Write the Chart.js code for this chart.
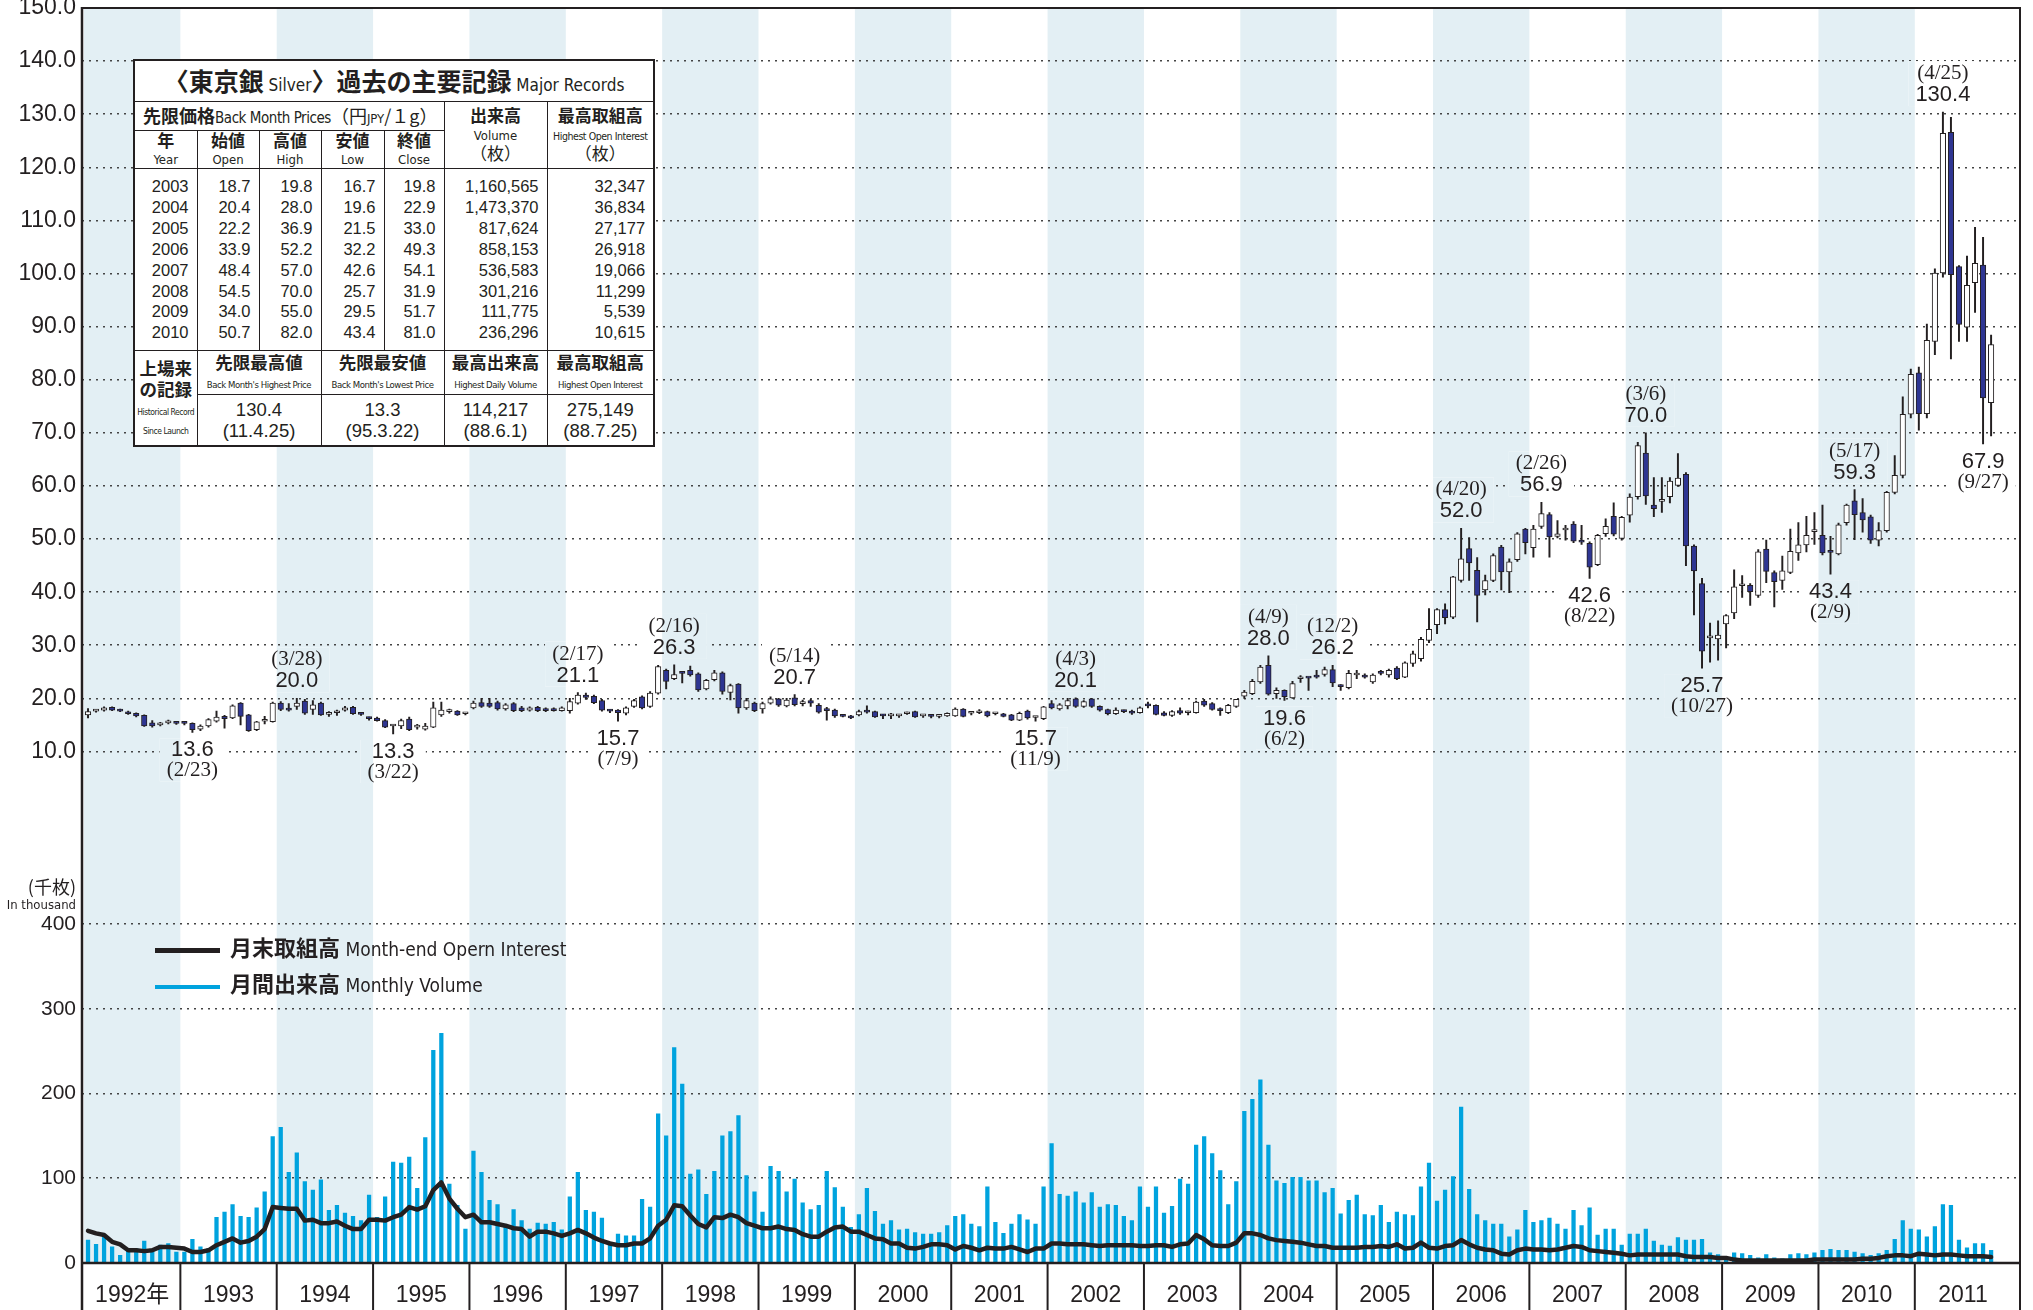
<!DOCTYPE html>
<html lang="ja">
<head>
<meta charset="utf-8">
<title>東京銀 Silver 過去の主要記録</title>
<script src="https://cdn.jsdelivr.net/npm/chart.js@4.4.1/dist/chart.umd.min.js"></script>
<style>
  html, body { margin: 0; padding: 0; background: #fff; }
  #stage { position: relative; width: 2033px; height: 1310px; overflow: hidden; color: #231f20; }
  #chart { position: absolute; left: 0; top: 0; }
  .jp { font-family: "Noto Sans CJK JP", sans-serif; }
  .en { font-family: "Liberation Sans Narrow", "DejaVu Sans Condensed", "Liberation Sans", sans-serif; font-weight: 400; }
  .b { font-weight: 700; }
  .sq { white-space: nowrap; letter-spacing: -0.45px; }

  #records { position: absolute; left: 133px; top: 59px; width: 521px; border-collapse: collapse;
             table-layout: fixed; background: #fff; border: 2.5px solid #231f20;
             font-family: "Liberation Sans", Arial, sans-serif; color: #231f20; }
  #records td { border: 1.5px solid #231f20; padding: 0; text-align: center; vertical-align: middle; line-height: 1.05; white-space: nowrap; overflow: visible; }
  #records .title td { height: 40px; font-size: 25px; }
  #records .h1 td { height: 28px; font-size: 17px; }
  #records .h1 td.lead { text-align: left; padding-left: 8px; font-size: 18px; }
  #records .h2 td { height: 37px; font-size: 17px; line-height: 17px; }
  #records .data td { height: 174px; vertical-align: top; text-align: right; padding: 7px 8px 0 0;
                      font-size: 16.5px; line-height: 20.9px; }
  #records .h3 td { height: 43px; font-size: 17.5px; line-height: 19px; }
  #records .vals td { height: 50px; font-size: 18.5px; line-height: 21px; }
  .e8 { font-size: 8.5px; line-height: 10px; }
  .e9 { font-size: 9.5px; }
  .e10 { font-size: 10.5px; }
  .e13 { font-size: 13px; }
  .e15 { font-size: 15px; }
  .e17 { font-size: 17px; }

  .legend { position: absolute; left: 155px; font-size: 22px; white-space: nowrap; }
  .legend .sw { display: inline-block; width: 65px; height: 5px; vertical-align: middle; margin-right: 10px; }
  .legend .en { font-size: 19px; }
  .unit { position: absolute; right: 1957px; text-align: right; white-space: nowrap; }
</style>
</head>
<body>
<div id="stage">
  <canvas id="chart" width="2033" height="1310"></canvas>

  <table id="records">
    <colgroup>
      <col style="width:63px"><col style="width:62px"><col style="width:62px"><col style="width:63px">
      <col style="width:60px"><col style="width:103px"><col style="width:107px">
    </colgroup>
    <tr class="title"><td colspan="7"><span class="jp b">〈東京銀</span><span class="en e17"> Silver</span><span class="jp b">〉過去の主要記録</span><span class="en e17"> Major Records</span></td></tr>
    <tr class="h1">
      <td colspan="5" class="lead"><span class="jp b">先限価格</span><span class="en e15 sq">Back Month Prices</span><span class="jp">（円</span><span class="en e13">JPY</span><span class="jp">/１g）</span></td>
      <td rowspan="2"><span class="jp b">出来高</span><br><span class="en e13">Volume</span><br><span class="jp">（枚）</span></td>
      <td rowspan="2"><span class="jp b">最高取組高</span><br><span class="en e10 sq">Highest Open Interest</span><br><span class="jp">（枚）</span></td>
    </tr>
    <tr class="h2">
      <td><span class="jp b">年</span><br><span class="en e13">Year</span></td>
      <td><span class="jp b">始値</span><br><span class="en e13">Open</span></td>
      <td><span class="jp b">高値</span><br><span class="en e13">High</span></td>
      <td><span class="jp b">安値</span><br><span class="en e13">Low</span></td>
      <td><span class="jp b">終値</span><br><span class="en e13">Close</span></td>
    </tr>
    <tr class="data">
      <td id="colYear"></td><td id="colOpen"></td><td id="colHigh"></td><td id="colLow"></td>
      <td id="colClose"></td><td id="colVol"></td><td id="colOI"></td>
    </tr>
    <tr class="h3">
      <td rowspan="2"><span class="jp b">上場来<br>の記録</span><br><span class="en e8 sq">Historical Record<br>Since Launch</span></td>
      <td colspan="2"><span class="jp b">先限最高値</span><br><span class="en e9 sq">Back Month's Highest Price</span></td>
      <td colspan="2"><span class="jp b">先限最安値</span><br><span class="en e9 sq">Back Month's Lowest Price</span></td>
      <td><span class="jp b">最高出来高</span><br><span class="en e9 sq">Highest Daily Volume</span></td>
      <td><span class="jp b">最高取組高</span><br><span class="en e9 sq">Highest Open Interest</span></td>
    </tr>
    <tr class="vals">
      <td colspan="2">130.4<br>(11.4.25)</td>
      <td colspan="2">13.3<br>(95.3.22)</td>
      <td>114,217<br>(88.6.1)</td>
      <td>275,149<br>(88.7.25)</td>
    </tr>
  </table>

  <div class="unit jp" style="top:873px; font-size:18px;">(千枚)</div>
  <div class="unit en" style="top:897px; font-size:13px;">In thousand</div>

  <div class="legend" style="top:930px;"><span class="sw" style="background:#231f20"></span><span class="jp b">月末取組高</span><span class="en"> Month-end Opern Interest</span></div>
  <div class="legend" style="top:966px;"><span class="sw" style="background:#00a3de; height:4px"></span><span class="jp b">月間出来高</span><span class="en"> Monthly Volume</span></div>
</div>

<script>
// x axis: one slot per month, Jan 1992 .. Oct 2011
const years = ['1992年', '1993', '1994', '1995', '1996', '1997', '1998', '1999', '2000', '2001',
               '2002', '2003', '2004', '2005', '2006', '2007', '2008', '2009', '2010', '2011'];
const priceTicks = [10, 20, 30, 40, 50, 60, 70, 80, 90, 100, 110, 120, 130, 140, 150];
const volumeTicks = [0, 100, 200, 300, 400];

// monthly candles, JPY / 1g (back month)
const open = [
  16.9, 17.6, 17.8, 18.3, 17.8, 17.4, 17.2, 16.8, 15.4, 15.0, 15.4, 15.6,
  15.4, 15.3, 14.2, 14.8, 15.7, 16.6, 16.3, 19.1, 16.9, 14.1, 15.7, 15.6,
  19.1, 18.0, 18.5, 19.5, 17.9, 19.1, 17.0, 17.3, 17.8, 18.3, 17.1, 16.3,
  16.3, 15.8, 14.8, 14.8, 16.1, 14.6, 14.2, 14.6, 16.9, 17.5, 17.6, 17.1,
  18.2, 19.2, 19.1, 19.2, 18.0, 19.0, 18.2, 17.8, 18.3, 18.0, 18.0, 17.7,
  17.7, 19.1, 20.6, 20.4, 19.6, 17.7, 17.8, 17.2, 18.5, 20.3, 18.5, 21.0,
  25.3, 23.7, 24.8, 25.3, 24.6, 21.8, 23.5, 24.8, 21.1, 22.7, 18.2, 19.1,
  18.0, 19.1, 19.9, 18.6, 20.1, 19.0, 19.6, 18.7, 17.8, 17.8, 16.8, 16.7,
  16.9, 17.7, 17.5, 16.8, 16.7, 16.7, 17.1, 17.5, 16.7, 16.7, 16.6, 16.7,
  16.7, 18.0, 17.2, 17.3, 17.5, 17.1, 17.1, 16.9, 15.9, 17.6, 16.4, 16.2,
  19.0, 18.0, 18.6, 19.9, 18.5, 19.9, 18.5, 17.9, 17.1, 17.6, 17.6, 17.3,
  18.7, 18.7, 17.3, 16.8, 17.7, 17.3, 17.3, 19.5, 19.0, 18.1, 17.3, 18.5,
  20.4, 20.9, 23.1, 26.2, 20.9, 21.5, 20.1, 23.7, 23.9, 24.4, 24.5, 25.4,
  22.3, 22.0, 24.4, 24.4, 23.1, 25.0, 24.4, 25.7, 24.0, 26.6, 27.5, 30.9,
  33.9, 36.7, 35.3, 42.2, 48.2, 44.1, 40.4, 42.2, 48.5, 43.8, 46.1, 51.9,
  48.4, 52.4, 54.6, 50.5, 51.7, 52.8, 49.8, 49.2, 45.2, 51.0, 54.3, 50.1,
  54.5, 58.0, 66.2, 56.4, 57.1, 58.0, 60.1, 62.2, 48.7, 41.6, 31.4, 31.2,
  34.0, 36.1, 41.2, 41.3, 39.4, 48.1, 43.7, 42.2, 43.7, 47.4, 48.9, 51.4,
  50.7, 47.6, 47.2, 53.1, 57.2, 55.0, 54.2, 49.8, 51.6, 58.8, 62.0, 73.5,
  81.3, 73.6, 87.2, 100.1, 126.6, 101.3, 89.9, 98.3, 101.6, 75.7
];
const high = [
  18.1, 17.9, 18.4, 18.4, 18.0, 17.6, 17.3, 16.9, 15.8, 15.5, 15.9, 15.7,
  15.5, 15.4, 15.0, 16.2, 17.6, 16.8, 18.8, 19.2, 17.0, 15.7, 16.6, 19.3,
  19.4, 19.0, 20.0, 19.8, 19.6, 19.3, 17.5, 17.8, 18.5, 18.5, 17.3, 16.5,
  16.5, 16.0, 15.0, 16.1, 16.5, 15.1, 15.3, 19.3, 19.3, 18.0, 17.7, 17.3,
  19.5, 20.0, 20.0, 19.5, 19.0, 19.2, 18.5, 18.4, 18.5, 18.2, 18.2, 18.4,
  20.0, 21.1, 21.0, 20.6, 19.8, 17.9, 17.9, 18.4, 19.8, 20.5, 21.3, 26.2,
  25.5, 26.3, 24.9, 26.1, 24.8, 23.6, 25.3, 25.0, 22.7, 22.8, 20.0, 19.3,
  19.3, 20.3, 20.0, 20.0, 20.7, 19.7, 19.8, 19.0, 18.3, 18.0, 16.9, 16.8,
  17.8, 18.6, 17.6, 17.0, 17.2, 17.0, 17.4, 17.6, 17.0, 16.9, 16.9, 17.3,
  18.2, 18.1, 17.4, 17.9, 17.6, 17.3, 17.2, 17.0, 17.4, 17.8, 16.6, 18.5,
  19.6, 19.0, 20.0, 20.1, 19.6, 20.0, 18.6, 18.0, 18.2, 17.8, 17.8, 18.4,
  19.3, 18.8, 17.5, 17.7, 18.2, 17.6, 19.5, 19.8, 19.2, 18.2, 18.9, 19.8,
  21.5, 23.6, 26.2, 28.0, 22.0, 21.6, 23.2, 24.3, 24.0, 25.3, 25.9, 26.2,
  22.6, 25.3, 25.3, 24.6, 24.6, 25.3, 25.5, 26.0, 26.9, 28.9, 31.5, 36.9,
  36.9, 37.8, 43.0, 52.0, 50.3, 46.5, 43.2, 47.2, 48.8, 46.3, 51.2, 52.0,
  52.6, 56.9, 55.0, 53.5, 52.6, 53.3, 52.6, 49.5, 50.9, 53.8, 56.8, 54.3,
  58.5, 68.2, 70.0, 61.6, 61.6, 61.6, 66.1, 62.5, 48.9, 42.6, 34.2, 34.6,
  35.8, 44.2, 43.1, 41.6, 48.0, 49.8, 44.0, 46.8, 51.9, 53.1, 54.3, 55.0,
  56.4, 50.5, 53.0, 56.6, 59.3, 57.6, 54.5, 53.1, 59.0, 65.7, 76.8, 82.0,
  82.4, 90.5, 100.9, 130.4, 129.4, 101.5, 103.3, 108.7, 106.8, 88.4
];
const low = [
  16.3, 17.4, 17.6, 17.7, 17.5, 17.0, 16.5, 14.7, 14.6, 14.8, 15.2, 15.1,
  15.0, 13.6, 13.9, 14.6, 15.5, 14.4, 16.2, 15.0, 13.8, 13.9, 15.2, 15.5,
  17.7, 17.6, 17.9, 17.0, 17.0, 16.8, 16.6, 16.8, 17.6, 17.0, 16.8, 15.9,
  15.7, 14.5, 13.3, 14.3, 13.9, 14.2, 14.0, 14.5, 16.6, 17.2, 16.8, 16.9,
  18.0, 18.3, 18.3, 17.8, 17.8, 17.5, 17.5, 17.6, 17.5, 17.5, 17.6, 17.6,
  17.2, 18.9, 19.8, 19.0, 17.6, 17.3, 15.7, 16.9, 18.3, 18.0, 18.3, 20.8,
  21.8, 23.5, 22.9, 24.2, 21.3, 21.6, 23.3, 20.8, 19.7, 17.2, 17.9, 17.5,
  17.2, 18.9, 18.5, 18.4, 18.6, 18.6, 18.5, 17.2, 15.9, 16.4, 16.5, 16.2,
  16.7, 17.2, 16.4, 16.2, 16.2, 16.4, 17.0, 16.4, 16.4, 16.3, 16.3, 16.6,
  16.6, 16.5, 16.9, 17.1, 16.5, 16.9, 16.5, 15.8, 15.8, 16.1, 15.7, 16.0,
  18.0, 17.8, 18.0, 18.3, 18.3, 18.3, 17.6, 16.9, 17.0, 17.3, 17.0, 17.2,
  18.2, 16.9, 16.7, 16.6, 17.0, 16.9, 17.2, 18.5, 17.8, 16.8, 17.1, 18.3,
  20.0, 20.7, 22.8, 20.6, 20.0, 19.6, 20.0, 23.0, 21.5, 23.8, 24.2, 22.2,
  21.5, 21.8, 23.7, 23.8, 22.8, 24.4, 24.0, 23.5, 23.9, 26.0, 27.0, 30.5,
  32.2, 34.0, 35.0, 41.9, 42.2, 34.4, 39.5, 42.0, 40.4, 39.9, 45.8, 47.2,
  46.6, 52.0, 46.6, 50.2, 49.8, 49.3, 49.0, 42.6, 45.0, 50.5, 50.6, 49.8,
  53.2, 57.5, 56.5, 54.2, 55.0, 56.8, 59.9, 45.0, 35.7, 25.7, 26.8, 27.2,
  29.5, 35.0, 39.0, 37.5, 39.0, 41.8, 37.2, 40.5, 43.5, 46.0, 47.6, 49.0,
  47.0, 43.4, 47.0, 52.6, 49.9, 51.3, 49.2, 48.7, 51.3, 58.5, 61.5, 72.8,
  70.5, 72.8, 84.7, 99.3, 83.9, 87.2, 87.2, 92.7, 67.9, 69.4
];
const close = [
  17.5, 17.7, 18.2, 17.8, 17.6, 17.1, 16.7, 14.8, 14.8, 15.3, 15.4, 15.3,
  15.3, 14.1, 14.8, 16.0, 16.5, 16.2, 18.6, 16.6, 13.9, 15.6, 15.8, 19.1,
  17.9, 17.8, 19.1, 17.2, 18.8, 16.9, 17.3, 17.4, 18.2, 17.1, 17.0, 16.2,
  15.8, 14.6, 14.9, 15.8, 14.1, 14.6, 14.8, 18.2, 17.8, 17.6, 16.9, 17.1,
  19.1, 18.5, 18.5, 18.0, 18.8, 17.7, 17.7, 18.2, 17.7, 17.7, 17.7, 18.2,
  19.4, 20.6, 20.2, 19.2, 17.8, 17.6, 17.3, 18.2, 19.6, 18.2, 21.0, 26.0,
  23.2, 24.5, 24.7, 24.4, 21.6, 23.4, 24.8, 21.3, 22.4, 18.2, 19.6, 17.7,
  19.0, 19.9, 18.7, 19.7, 18.8, 19.4, 19.1, 17.4, 17.7, 16.7, 16.6, 16.3,
  17.5, 17.4, 16.5, 16.7, 16.7, 16.8, 17.3, 16.5, 16.7, 16.6, 16.7, 17.2,
  18.0, 16.6, 17.2, 17.4, 16.7, 17.1, 16.6, 15.9, 17.2, 16.3, 16.4, 18.4,
  18.2, 18.8, 19.6, 18.5, 19.4, 18.5, 17.8, 17.1, 17.8, 17.5, 17.2, 18.2,
  18.6, 17.0, 16.8, 17.5, 17.2, 17.3, 19.3, 18.7, 17.9, 17.7, 18.7, 19.8,
  21.2, 23.2, 25.9, 20.8, 21.5, 20.3, 22.8, 23.8, 23.8, 24.0, 25.4, 22.9,
  22.2, 24.7, 24.5, 24.0, 24.4, 24.7, 25.3, 23.7, 26.7, 28.4, 31.1, 33.0,
  36.7, 35.2, 42.9, 46.3, 45.5, 39.4, 42.2, 46.9, 43.8, 45.7, 51.0, 49.3,
  51.9, 54.8, 50.4, 51.0, 51.8, 49.6, 49.4, 44.7, 50.7, 52.4, 50.9, 54.1,
  57.9, 67.6, 58.1, 55.7, 57.2, 60.9, 61.5, 48.7, 44.0, 28.9, 31.6, 31.9,
  35.6, 41.0, 41.3, 40.1, 47.6, 43.9, 42.0, 44.0, 47.7, 48.9, 50.7, 51.7,
  47.4, 47.5, 52.7, 56.4, 54.6, 53.6, 49.8, 51.6, 58.8, 62.0, 73.5, 81.0,
  73.6, 87.4, 100.1, 126.4, 99.8, 90.4, 97.8, 101.9, 76.6, 86.6
];

// thousand contracts
const volume = [
  27, 22, 31, 19, 9, 17, 17, 26, 15, 21, 23, 13,
  13, 28, 19, 17, 54, 60, 69, 55, 54, 65, 84, 149,
  160, 107, 130, 96, 86, 98, 62, 68, 59, 55, 50, 80,
  54, 78, 119, 118, 125, 88, 148, 251, 271, 93, 68, 40,
  132, 107, 74, 69, 42, 63, 50, 40, 47, 46, 48, 39,
  78, 107, 62, 60, 53, 21, 34, 32, 32, 75, 66, 176,
  150, 254, 211, 105, 110, 81, 108, 150, 155, 174, 103, 84,
  60, 114, 108, 84, 99, 71, 63, 68, 108, 89, 66, 42,
  57, 88, 61, 46, 50, 39, 40, 36, 34, 34, 36, 44,
  55, 57, 46, 43, 90, 48, 35, 46, 57, 51, 46, 90,
  141, 81, 79, 84, 71, 83, 66, 69, 68, 55, 50, 90,
  66, 90, 59, 67, 99, 93, 139, 149, 129, 109, 69, 96,
  179, 193, 216, 139, 97, 94, 101, 101, 97, 97, 83, 88,
  58, 74, 80, 57, 56, 68, 48, 60, 57, 56, 90, 118,
  73, 86, 102, 184, 87, 57, 50, 46, 46, 31, 39, 62,
  48, 50, 53, 46, 40, 62, 44, 65, 33, 40, 40, 21,
  34, 34, 40, 26, 21, 20, 30, 27, 27, 28, 12, 10,
  5, 12, 11, 9, 6, 10, 6, 5, 10, 11, 10, 12,
  15, 16, 15, 15, 13, 11, 9, 11, 15, 28, 50, 40,
  39, 31, 43, 69, 68, 27, 18, 23, 23, 15
];
const openInterest = [
  38, 35, 33, 25, 22, 15, 15, 14, 15, 19, 19, 18,
  17, 13, 13, 15, 21, 25, 29, 24, 26, 31, 40, 66,
  65, 64, 64, 50, 51, 47, 47, 49, 44, 40, 40, 51,
  51, 50, 54, 57, 66, 63, 67, 86, 95, 76, 64, 54,
  57, 48, 48, 46, 44, 41, 40, 31, 37, 37, 35, 32,
  35, 39, 35, 30, 26, 23, 21, 21, 23, 23, 29, 44,
  51, 68, 67, 56, 46, 42, 54, 53, 57, 54, 47, 44,
  41, 41, 43, 40, 39, 34, 31, 31, 37, 42, 43, 37,
  37, 33, 29, 28, 23, 23, 18, 17, 19, 22, 22, 21,
  16, 20, 18, 15, 18, 17, 17, 19, 16, 13, 17, 17,
  23, 23, 22, 22, 22, 21, 20, 21, 21, 21, 21, 20,
  20, 21, 21, 19, 22, 23, 33, 28, 21, 20, 20, 24,
  35, 35, 33, 29, 27, 26, 25, 24, 22, 20, 20, 18,
  18, 18, 18, 19, 19, 20, 19, 22, 17, 18, 24, 18,
  17, 20, 21, 27, 22, 18, 16, 15, 11, 10, 15, 17,
  16, 16, 15, 16, 18, 20, 19, 15, 14, 13, 12, 11,
  9, 10, 10, 10, 10, 10, 10, 8, 7, 7, 7, 6,
  6, 4, 3, 3, 3, 3, 3, 3, 3, 3, 3, 4,
  4, 4, 4, 4, 4, 5, 5, 6, 8, 9, 9, 8,
  11, 10, 9, 10, 10, 9, 8, 8, 8, 7
];

// highs / lows written on the chart (month index from Jan 1992)
const noteMonth = [13, 26, 38, 61, 66, 73, 88, 118, 123, 147, 149, 155, 171, 181, 187, 194, 201, 217, 220, 231, 236];
const noteValue = ['13.6', '20.0', '13.3', '21.1', '15.7', '26.3', '20.7', '15.7', '20.1', '28.0', '19.6',
                   '26.2', '52.0', '56.9', '42.6', '70.0', '25.7', '43.4', '59.3', '130.4', '67.9'];
const noteDate = ['(2/23)', '(3/28)', '(3/22)', '(2/17)', '(7/9)', '(2/16)', '(5/14)', '(11/9)', '(4/3)', '(4/9)', '(6/2)',
                  '(12/2)', '(4/20)', '(2/26)', '(8/22)', '(3/6)', '(10/27)', '(2/9)', '(5/17)', '(4/25)', '(9/27)'];
const noteSide = ['low', 'high', 'low', 'high', 'low', 'high', 'high', 'low', 'high', 'high', 'low',
                  'high', 'high', 'high', 'low', 'high', 'low', 'low', 'high', 'high', 'low'];

// major records table
const recordYear = ['2003', '2004', '2005', '2006', '2007', '2008', '2009', '2010'];
const recordOpen = ['18.7', '20.4', '22.2', '33.9', '48.4', '54.5', '34.0', '50.7'];
const recordHigh = ['19.8', '28.0', '36.9', '52.2', '57.0', '70.0', '55.0', '82.0'];
const recordLow = ['16.7', '19.6', '21.5', '32.2', '42.6', '25.7', '29.5', '43.4'];
const recordClose = ['19.8', '22.9', '33.0', '49.3', '54.1', '31.9', '51.7', '81.0'];
const recordVolume = ['1,160,565', '1,473,370', '817,624', '858,153', '536,583', '301,216', '111,775', '236,296'];
const recordOI = ['32,347', '36,834', '27,177', '26,918', '19,066', '11,299', '5,539', '10,615'];

const INK = '#231f20';
const BAND = '#e3eff4';
const DOWN = '#2e3592';
const VOL = '#00a3de';
const SANS = '"Liberation Sans", Arial, "Noto Sans CJK JP", sans-serif';
const SERIF = '"Liberation Serif", "Times New Roman", serif';

[['colYear', recordYear], ['colOpen', recordOpen], ['colHigh', recordHigh], ['colLow', recordLow],
 ['colClose', recordClose], ['colVol', recordVolume], ['colOI', recordOI]].forEach(([id, arr]) => {
  document.getElementById(id).innerHTML = arr.join('<br>');
});

const slot = i => i + 0.5; // centre of month i
const wicks = low.map((l, i) => ({ x: slot(i), y: [l, high[i]] }));
const bodies = open.map((o, i) => ({ x: slot(i), y: [o, close[i]] }));
const bodyColors = open.map((o, i) => (close[i] >= o ? '#ffffff' : DOWN));
const volPoints = volume.map((v, i) => ({ x: slot(i), y: v }));
const oiPoints = openInterest.map((v, i) => ({ x: slot(i), y: v }));

// shaded band for every other year
const yearBands = {
  id: 'yearBands',
  beforeDraw(chart) {
    const { ctx, chartArea: a, scales: { x } } = chart;
    ctx.save();
    ctx.fillStyle = BAND;
    years.forEach((_, k) => {
      if (k % 2) return;
      const x0 = x.getPixelForValue(12 * k);
      const x1 = Math.min(x.getPixelForValue(12 * k + 12), a.right);
      ctx.fillRect(x0, a.top, x1 - x0, a.bottom - a.top);
    });
    ctx.restore();
  }
};

function noteBoxes(chart) {
  const { ctx, scales: { x, yp } } = chart;
  return noteMonth.map((m, k) => {
    const cx = x.getPixelForValue(slot(m));
    const py = yp.getPixelForValue(parseFloat(noteValue[k]));
    const up = noteSide[k] === 'high';
    const valueBase = up ? py - 11 : py + 24;
    const dateBase = up ? valueBase - 22 : valueBase + 20;
    ctx.font = '22px ' + SANS;
    const wv = ctx.measureText(noteValue[k]).width;
    ctx.font = '21px ' + SERIF;
    const wd = ctx.measureText(noteDate[k]).width;
    const w = Math.max(wv, wd) + 14;
    const top = (up ? dateBase : valueBase) - 18;
    const bottom = (up ? valueBase : dateBase) + 5;
    return { k, cx, valueBase, dateBase, left: cx - w / 2, top, w, h: bottom - top };
  });
}

// gaps in the dotted lines behind the high/low labels, then the labels themselves
const notes = {
  id: 'notes',
  beforeDatasetsDraw(chart) {
    const { ctx, chartArea: a, scales: { x } } = chart;
    ctx.save();
    noteBoxes(chart).forEach(b => {
      ctx.fillStyle = '#ffffff';
      ctx.fillRect(b.left, b.top, b.w, b.h);
      ctx.fillStyle = BAND;
      years.forEach((_, k) => {
        if (k % 2) return;
        const x0 = Math.max(x.getPixelForValue(12 * k), b.left);
        const x1 = Math.min(x.getPixelForValue(12 * k + 12), b.left + b.w, a.right);
        if (x1 > x0) ctx.fillRect(x0, b.top, x1 - x0, b.h);
      });
    });
    ctx.restore();
  },
  afterDatasetsDraw(chart) {
    const { ctx } = chart;
    ctx.save();
    ctx.fillStyle = INK;
    ctx.textAlign = 'center';
    ctx.textBaseline = 'alphabetic';
    noteBoxes(chart).forEach(b => {
      ctx.font = '22px ' + SANS;
      ctx.fillText(noteValue[b.k], b.cx, b.valueBase);
      ctx.font = '21px ' + SERIF;
      ctx.fillText(noteDate[b.k], b.cx, b.dateBase);
    });
    ctx.restore();
  }
};

// outer frame, x axis line and year separators
const frame = {
  id: 'frame',
  afterDraw(chart) {
    const { ctx, chartArea: a, scales: { x } } = chart;
    const line = (x0, y0, x1, y1, w) => {
      ctx.lineWidth = w;
      ctx.beginPath();
      ctx.moveTo(x0, y0);
      ctx.lineTo(x1, y1);
      ctx.stroke();
    };
    ctx.save();
    ctx.strokeStyle = INK;
    line(a.left, a.top, a.right, a.top, 2);
    line(a.left, a.top - 1, a.left, chart.height, 2.5);
    line(a.right, a.top - 1, a.right, chart.height, 2);
    line(a.left, a.bottom, a.right, a.bottom, 2.5);
    for (let k = 1; k < years.length; k++) {
      const xp = x.getPixelForValue(12 * k);
      line(xp, a.bottom, xp, chart.height, 2);
    }
    ctx.restore();
  }
};

const yFit = s => { s.width = 82; s.paddingTop = 0; s.paddingBottom = 0; };

new Chart(document.getElementById('chart'), {
  type: 'bar',
  data: {
    datasets: [
      {
        type: 'line', label: '月末取組高', data: oiPoints, yAxisID: 'yv',
        borderColor: INK, borderWidth: 4.5, pointRadius: 0, tension: 0,
        borderJoinStyle: 'round', borderCapStyle: 'round', order: 0
      },
      {
        label: '月間出来高', data: volPoints, yAxisID: 'yv',
        backgroundColor: VOL, barThickness: 3.6, grouped: false, order: 1
      },
      {
        label: 'body', data: bodies, yAxisID: 'yp',
        backgroundColor: bodyColors, borderColor: INK, borderWidth: 1, borderSkipped: false,
        barThickness: 5.5, minBarLength: 2, grouped: false, order: 2
      },
      {
        label: 'wick', data: wicks, yAxisID: 'yp',
        backgroundColor: INK, barThickness: 1.3, grouped: false, order: 3
      }
    ]
  },
  options: {
    responsive: false,
    animation: false,
    devicePixelRatio: 1,
    layout: { padding: { top: 8, right: 13, left: 0, bottom: 0 } },
    plugins: { legend: { display: false }, tooltip: { enabled: false } },
    scales: {
      x: {
        type: 'linear', min: -0.25, max: 241.1, offset: false,
        grid: { display: false }, border: { display: false },
        afterBuildTicks: s => { s.ticks = years.map((_, k) => ({ value: 12 * k + 6 })); },
        ticks: {
          autoSkip: false, maxRotation: 0, padding: 11, color: INK,
          font: { family: SANS, size: 23 },
          callback: v => years[Math.round((v - 6) / 12)]
        },
        afterFit: s => { s.height = 47; s.paddingLeft = 0; s.paddingRight = 0; }
      },
      yv: {
        type: 'linear', position: 'left', stack: 'panels', stackWeight: 458.3,
        min: 0, max: 540.8,
        afterBuildTicks: s => { s.ticks = volumeTicks.map(v => ({ value: v })); },
        ticks: { autoSkip: false, padding: 6, color: INK, font: { family: SANS, size: 21 } },
        grid: { color: c => (c.tick && c.tick.value > 0 ? '#444' : 'rgba(0,0,0,0)'), lineWidth: 1.6, drawTicks: false },
        border: { display: false, dash: [2, 5] },
        afterFit: yFit
      },
      yp: {
        type: 'linear', position: 'left', stack: 'panels', stackWeight: 796.4,
        min: 0, max: 150,
        afterBuildTicks: s => { s.ticks = priceTicks.map(v => ({ value: v })); },
        ticks: { autoSkip: false, padding: 6, color: INK, font: { family: SANS, size: 23 }, callback: v => v.toFixed(1) },
        grid: { color: c => (c.tick && c.tick.value < 150 ? '#444' : 'rgba(0,0,0,0)'), lineWidth: 1.6, drawTicks: false },
        border: { display: false, dash: [2, 5] },
        afterFit: yFit
      }
    }
  },
  plugins: [yearBands, notes, frame]
});
</script>
</body>
</html>
